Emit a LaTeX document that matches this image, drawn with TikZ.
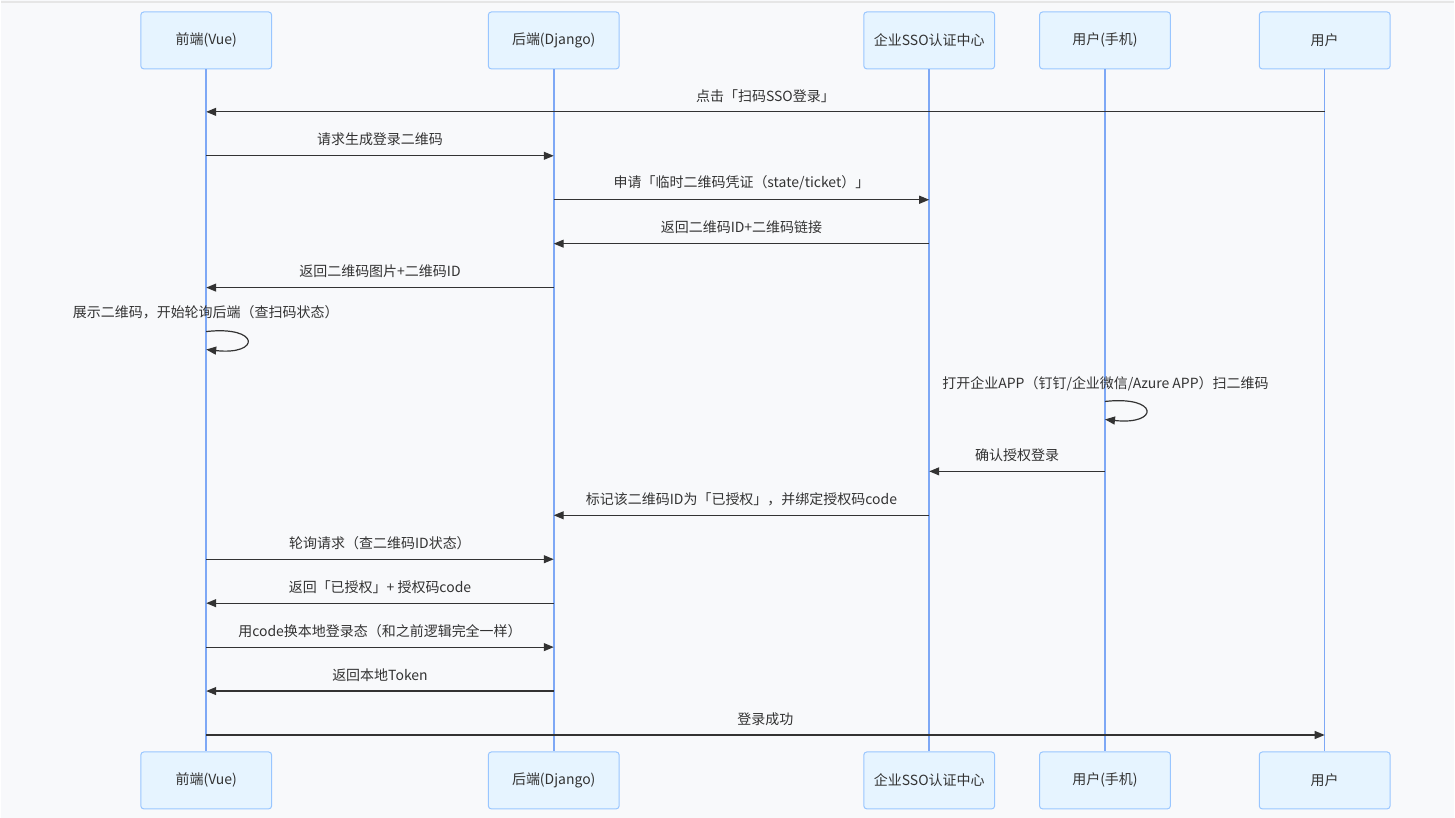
\documentclass[tikz,border=0pt]{standalone}
\usepackage{fontspec}
\setmainfont{Noto Sans CJK SC}
\usepackage{xcolor}
\usetikzlibrary{arrows.meta, positioning}
\definecolor{pagebg}{HTML}{F8F9FB}
\definecolor{topline}{HTML}{E6E6E6}
\definecolor{boxfill}{HTML}{E6F4FF}
\definecolor{boxline}{HTML}{99C6FF}
\definecolor{lifeblue}{HTML}{7EA8F5}
\definecolor{darkgray}{HTML}{333333}

\begin{document}
\begin{tikzpicture}[
  x=1pt, y=-1pt,
  font=\fontsize{14}{17}\selectfont, text=darkgray,
  actor/.style={rectangle, rounded corners=3pt, draw=boxline, fill=boxfill, line width=1pt, minimum width=131pt, minimum height=57pt, inner sep=2pt},
  life/.style={draw=lifeblue, line width=1.6pt},
  arr/.style={-{Triangle[length=10pt, width=8pt]}, line width=1.2pt, color=darkgray},
  lbl/.style={font=\fontsize{14}{17}\selectfont, inner sep=0pt},
]

%% Page
\fill[pagebg] (0,0) rectangle (1455,819);
\draw[topline, line width=2pt] (0,2) -- (1455,2);
\useasboundingbox (0,0) rectangle (1455,819);

%% Actors (top)
\node[actor] (fe) at (205.5,40.5) {前端(Vue)};
\node[actor] (be) at (553.5,40.5) {后端(Django)};
\node[actor] (sso) at (929.5,40.5) {企业SSO认证中心};
\node[actor] (phone) at (1105.5,40.5) {用户(手机)};
\node[actor] (usr) at (1325.5,40.5) {用户};

%% Actors (bottom)
\node[actor] (fe2) at (205.5,781.5) {前端(Vue)};
\node[actor] (be2) at (553.5,781.5) {后端(Django)};
\node[actor] (sso2) at (929.5,781.5) {企业SSO认证中心};
\node[actor] (phone2) at (1105.5,781.5) {用户(手机)};
\node[actor] (usr2) at (1325.5,781.5) {用户};

%% Lifelines
\draw[life] (fe) -- (fe2);
\draw[life] (be) -- (be2);
\draw[life] (sso) -- (sso2);
\draw[life] (phone) -- (phone2);
\draw[life] (usr) -- (usr2);

%% Messages
\draw[arr] (usr |- 0,112) -- (fe |- 0,112) node[lbl, midway, above=9pt] {点击「扫码SSO登录」};
\draw[arr] (fe |- 0,156) -- (be |- 0,156) node[lbl, midway, above=9pt] {请求生成登录二维码};
\draw[arr] (be |- 0,200) -- (sso |- 0,200) node[lbl, midway, above=9pt] {申请「临时二维码凭证（state/ticket）」};
\draw[arr] (sso |- 0,244) -- (be |- 0,244) node[lbl, midway, above=9pt] {返回二维码ID+二维码链接};
\draw[arr] (be |- 0,288) -- (fe |- 0,288) node[lbl, midway, above=9pt] {返回二维码图片+二维码ID};

%% Self loop: frontend
\node[lbl] (showqr) at (205,313) {展示二维码，开始轮询后端（查扫码状态）};
\draw[arr] (fe |- 0,332) .. controls (260,326) and (260,356) .. (fe |- 0,350);

%% Self loop: phone
\node[lbl] (scan) at (1106,384) {打开企业APP（钉钉/企业微信/Azure APP）扫二维码};
\draw[arr] (phone |- 0,402) .. controls (1160,396) and (1160,426) .. (phone |- 0,420);

\draw[arr] (phone |- 0,472) -- (sso |- 0,472) node[lbl, midway, above=9pt] {确认授权登录};
\draw[arr] (sso |- 0,516) -- (be |- 0,516) node[lbl, midway, above=9pt] {标记该二维码ID为「已授权」，并绑定授权码code};
\draw[arr] (fe |- 0,560) -- (be |- 0,560) node[lbl, midway, above=9pt] {轮询请求（查二维码ID状态）};
\draw[arr] (be |- 0,604) -- (fe |- 0,604) node[lbl, midway, above=9pt] {返回「已授权」+ 授权码code};
\draw[arr] (fe |- 0,648) -- (be |- 0,648) node[lbl, midway, above=9pt] {用code换本地登录态（和之前逻辑完全一样）};
\draw[arr] (be |- 0,692) -- (fe |- 0,692) node[lbl, midway, above=9pt] {返回本地Token};
\draw[arr] (fe |- 0,736) -- (usr |- 0,736) node[lbl, midway, above=9pt] {登录成功};

\end{tikzpicture}
\end{document}
